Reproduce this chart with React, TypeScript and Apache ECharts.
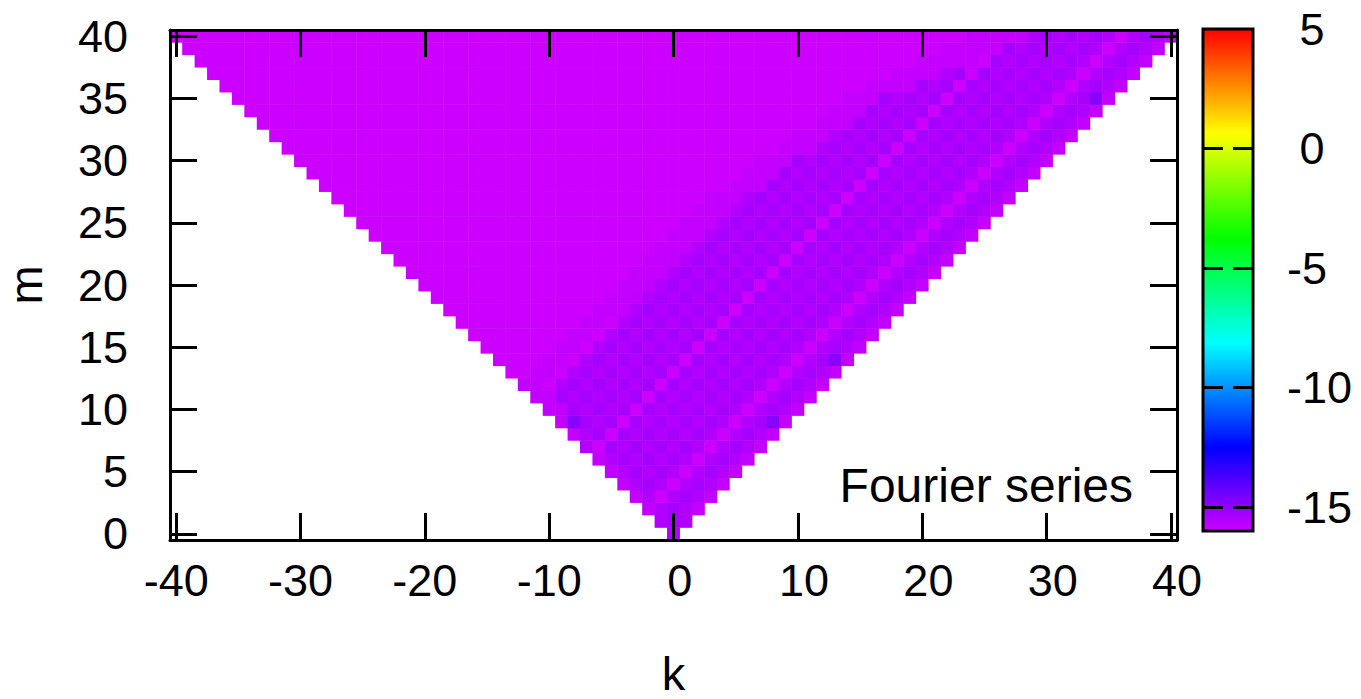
import { useEffect, useRef } from 'react';
import * as echarts from 'echarts';

// ---- data -------------------------------------------------------------
const kLabels = [-40,-39,-38,-37,-36,-35,-34,-33,-32,-31,-30,-29,-28,-27,-26,-25,-24,-23,-22,-21,-20,-19,-18,-17,-16,-15,-14,-13,-12,-11,-10,-9,-8,-7,-6,-5,-4,-3,-2,-1,0,1,2,3,4,5,6,7,8,9,10,11,12,13,14,15,16,17,18,19,20,21,22,23,24,25,26,27,28,29,30,31,32,33,34,35,36,37,38,39,40];
const mLabels = [0,1,2,3,4,5,6,7,8,9,10,11,12,13,14,15,16,17,18,19,20,21,22,23,24,25,26,27,28,29,30,31,32,33,34,35,36,37,38,39,40];

// value of the uniform (purple) part of every row
const baseValue = -16;
// value levels
const levelValues: Record<string, number> = { a: -16, b: -15.85, c: -15.55, d: -15.35, e: -14.85 };

// first k of the non-uniform stretch of each row m (cells left of it hold baseValue)
const rowStartK = [0,-1,-2,-3,-4,-5,-6,-7,-8,-9,-10,-11,-12,-11,-10,-9,-8,-7,-6,-5,-4,-3,-2,-1,0,1,2,3,5,6,7,9,10,12,13,14,16,18,20,22,24];

// level codes from rowStartK up to k = m, for m = 0..40
const rowCodes = [
  'c',
  'cdc',
  'bcdcb',
  'b' + 'c' + 'a' + 'cdc' + 'b',
  'b' + 'cdc' + 'a' + 'cdc' + 'b',
  'b' + 'cdcdc' + 'a' + 'cdc' + 'b',
  'b' + 'cdcdcdc' + 'a' + 'cdc' + 'b',
  'ca' + 'dcdcdcdc' + 'a' + 'cdc' + 'b',
  'b' + 'cd' + 'a' + 'dcdcdcdc' + 'a' + 'cdc' + 'b',
  'be' + 'dcd' + 'a' + 'dcdcdcdc' + 'a' + 'cde' + 'b',
  'bb' + 'dcdcd' + 'a' + 'dcdcdcdc' + 'a' + 'cdc' + 'b',
  'bb' + 'dcdcdcd' + 'a' + 'dcdcdcdc' + 'a' + 'cdc' + 'b',
  'bb' + 'a' + 'cdcdcdcd' + 'a' + 'dcdcdcdc' + 'a' + 'cdc' + 'b',
  'bb' + 'a' + 'cdcdcdcd' + 'a' + 'dcdcdcdc' + 'a' + 'cdc' + 'b',
  'bb' + 'a' + 'cdcdcdcd' + 'a' + 'dcdcdcdc' + 'a' + 'cde' + 'b',
  'bb' + 'a' + 'cdcdcdcd' + 'a' + 'dcdcdcdc' + 'a' + 'cdc' + 'b',
  'bb' + 'a' + 'cdcdcdcd' + 'a' + 'dcdcdcdc' + 'a' + 'cdc' + 'b',
  'bb' + 'a' + 'cdcdcdcd' + 'a' + 'dcdcdcdc' + 'a' + 'cdc' + 'b',
  'bbb' + 'cdcdcdcd' + 'a' + 'dcdcdcdc' + 'a' + 'cdc' + 'b',
  'bbb' + 'cdcdcdcd' + 'a' + 'dcdcdcdc' + 'a' + 'cdc' + 'b',
  'bbb' + 'cdcdcdcd' + 'a' + 'dcdcdcdc' + 'a' + 'cdc' + 'b',
  'bbb' + 'cdcdcdcd' + 'a' + 'dcdcdcdc' + 'a' + 'cdc' + 'b',
  'bbb' + 'cdcdcdcd' + 'a' + 'dcdcdcdc' + 'a' + 'cdc' + 'b',
  'bbb' + 'cdcdcdcd' + 'a' + 'dcdcdcdc' + 'a' + 'cdc' + 'b',
  'bbb' + 'cdcdcdcd' + 'a' + 'dcdcdcdc' + 'a' + 'cdc' + 'b',
  'bbb' + 'cdcdcdcd' + 'a' + 'dcdcdcdc' + 'a' + 'cdc' + 'b',
  'bbb' + 'cdcdcdcd' + 'a' + 'dcdcdcdc' + 'a' + 'cdc' + 'b',
  'bbb' + 'cdcdcdcd' + 'a' + 'dcdcdcdc' + 'a' + 'cdc' + 'b',
  'bbb' + 'dcdcdcd' + 'a' + 'dcdcdcdc' + 'a' + 'cdc' + 'b',
  'bbb' + 'dcdcdcd' + 'a' + 'dcdcdcdc' + 'a' + 'cdc' + 'b',
  'bbb' + 'dcdcdcd' + 'a' + 'dcdcdcdc' + 'a' + 'cdc' + 'b',
  'bbb' + 'cdcdcd' + 'a' + 'dcdcdcdc' + 'a' + 'cdc' + 'b',
  'bbb' + 'cdcdcd' + 'a' + 'dcdcdcdc' + 'a' + 'cdc' + 'b',
  'bbb' + 'dcdcd' + 'a' + 'dcdcdcdc' + 'a' + 'cdc' + 'b',
  'bbb' + 'dcdcd' + 'a' + 'dcdcdcdc' + 'a' + 'cdc' + 'b',
  'bbb' + 'dcdcd' + 'a' + 'dcdcdcdc' + 'a' + 'cde' + 'b',
  'bbbb' + 'dcd' + 'a' + 'dcdcdcdc' + 'a' + 'cdc' + 'b',
  'bbbb' + 'cd' + 'a' + 'dcdcdcdc' + 'a' + 'cdc' + 'b',
  'bbbbb' + 'a' + 'dcdcdcdc' + 'a' + 'cdc' + 'b',
  'bbbbb' + 'dcdcdcdc' + 'a' + 'cdc' + 'b',
  'bbbbb' + 'cdcdcdc' + 'a' + 'cdc' + 'b',
];

const colorMin = -16;
const colorMax = 5;
const colorbarTicks = [-15, -10, -5, 0];
const colorbarLabels = [-15, -10, -5, 0, 5];
const annotation = 'Fourier series';

// ---- helpers ----------------------------------------------------------
function hsvHex(h: number): string {
  const f = (n: number) => {
    const k = (n + h / 60) % 6;
    return 1 - Math.max(0, Math.min(k, 4 - k, 1));
  };
  const to = (x: number) => Math.round(x * 255).toString(16).padStart(2, '0');
  return '#' + to(f(5)) + to(f(3)) + to(f(1));
}

const FONT = "'Liberation Sans', Arial, Helvetica, sans-serif";

export default function App() {
  const ref = useRef<HTMLDivElement>(null);

  useEffect(() => {
    document.body.style.margin = '0';
    const chart = echarts.init(ref.current!, null, { renderer: 'svg' });

    const cells: number[][] = [];
    mLabels.forEach((m, mi) => {
      const start = rowStartK[mi];
      const codes = rowCodes[mi];
      kLabels.forEach((k, ki) => {
        if (Math.abs(k) > m) return;
        const idx = k - start;
        const v = idx >= 0 && idx < codes.length ? levelValues[codes[idx]] : baseValue;
        cells.push([ki, mi, v]);
      });
    });

    // gnuplot-like rainbow: hue 288 (at min) -> 0 (at max)
    const mapColors: string[] = [];
    for (let i = 0; i <= 24; i++) mapColors.push(hsvHex(288 - 12 * i));
    const barStops: { offset: number; color: string }[] = [];
    for (let i = 0; i <= 24; i++) barStops.push({ offset: i / 24, color: hsvHex(12 * i) });

    const black = '#000';
    const tickLine = { color: black, width: 3 };
    const labelStyle = { color: black, fontSize: 45, fontFamily: FONT };
    const nb = '\u00a0';

    const option: any = {
      animation: false,
      backgroundColor: '#fff',
      grid: [
        { left: 170, top: 30, width: 1007, height: 510, show: false, containLabel: false, outerBoundsMode: 'none' },
        {
          left: 1203, top: 29, width: 50, height: 502, show: true, containLabel: false, outerBoundsMode: 'none',
          backgroundColor: new echarts.graphic.LinearGradient(0, 0, 0, 1, barStops),
          borderColor: black, borderWidth: 3,
        },
      ],
      xAxis: [
        {
          type: 'category', gridIndex: 0, position: 'bottom', data: kLabels.map(String), z: 10,
          axisLine: { show: true, lineStyle: tickLine },
          axisTick: { show: true, inside: true, length: 27, alignWithLabel: true, interval: 9, lineStyle: tickLine },
          axisLabel: {
            ...labelStyle, interval: 9, margin: 18,
            formatter: (v: string) => (Number(v) >= 0 ? nb + v : v),
          },
          splitLine: { show: false },
          name: 'k', nameLocation: 'middle', nameGap: 110,
          nameTextStyle: { ...labelStyle, fontSize: 47 },
        },
        {
          type: 'category', gridIndex: 0, position: 'top', data: kLabels.map(String), z: 10,
          axisLine: { show: true, lineStyle: tickLine },
          axisTick: { show: true, inside: true, length: 27, alignWithLabel: true, interval: 9, lineStyle: tickLine },
          axisLabel: { show: false, interval: 9 },
          splitLine: { show: false },
        },
        { type: 'value', gridIndex: 1, min: 0, max: 1, show: false },
      ],
      yAxis: [
        {
          type: 'category', gridIndex: 0, position: 'left', data: mLabels.map(String), z: 10,
          axisLine: { show: true, lineStyle: tickLine },
          axisTick: { show: true, inside: true, length: 27, alignWithLabel: true, interval: 4, lineStyle: tickLine },
          axisLabel: { ...labelStyle, interval: 4, margin: 42 },
          splitLine: { show: false },
          name: 'm', nameLocation: 'middle', nameGap: 121, nameRotate: 90,
          nameTextStyle: { ...labelStyle, fontSize: 47 },
        },
        {
          type: 'category', gridIndex: 0, position: 'right', data: mLabels.map(String), z: 10,
          axisLine: { show: true, lineStyle: tickLine },
          axisTick: { show: true, inside: true, length: 27, alignWithLabel: true, interval: 4, lineStyle: tickLine },
          axisLabel: { show: false, interval: 4 },
          splitLine: { show: false },
        },
        {
          type: 'value', gridIndex: 1, position: 'left', min: colorMin, max: colorMax, z: 10,
          axisLine: { show: false },
          axisTick: { show: true, inside: true, length: 20, customValues: colorbarTicks, lineStyle: tickLine },
          axisLabel: { show: false },
          splitLine: { show: false },
        },
        {
          type: 'value', gridIndex: 1, position: 'right', min: colorMin, max: colorMax, z: 10,
          axisLine: { show: false },
          axisTick: { show: true, inside: true, length: 20, customValues: colorbarTicks, lineStyle: tickLine },
          axisLabel: {
            ...labelStyle, margin: 34, align: 'left', customValues: colorbarLabels,
            formatter: (v: number) => (v >= 0 ? nb + v : String(v)),
          },
          splitLine: { show: false },
        },
      ],
      visualMap: {
        type: 'continuous', show: false, seriesIndex: 0, dimension: 2,
        min: colorMin, max: colorMax, inRange: { color: mapColors },
      },
      series: [
        {
          type: 'heatmap', xAxisIndex: 0, yAxisIndex: 0, data: cells,
          progressive: 0, emphasis: { disabled: true },
        },
      ],
      graphic: [
        {
          type: 'text', x: 1133, y: 485, z: 20,
          style: { text: annotation, align: 'right', verticalAlign: 'middle', fill: black, fontSize: 48, fontFamily: FONT },
        },
      ],
    };

    chart.setOption(option);
    return () => chart.dispose();
  }, []);

  return <div ref={ref} style={{ width: 1361, height: 699 }} />;
}
